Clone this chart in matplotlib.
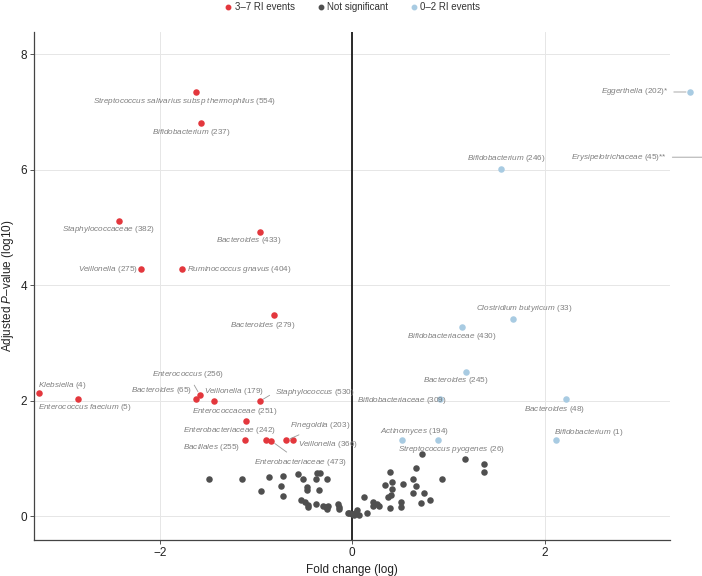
import matplotlib
matplotlib.use("Agg")
import matplotlib.pyplot as plt
from matplotlib.lines import Line2D

plt.rcParams['font.family'] = ['Liberation Sans', 'DejaVu Sans']
plt.rcParams['mathtext.fontset'] = 'custom'
plt.rcParams['mathtext.it'] = 'Liberation Sans:italic'
plt.rcParams['mathtext.rm'] = 'Liberation Sans'
plt.rcParams['mathtext.bf'] = 'Liberation Sans:bold'

# ---------------- data ----------------
red_names = ["Streptococcus salivarius subsp thermophilus", "Bifidobacterium", "Staphylococcaceae",
             "Bacteroides", "Veillonella", "Ruminococcus gnavus", "Bacteroides", "Klebsiella",
             "Enterococcus faecium", "Bacteroides", "Enterococcus", "Veillonella", "Staphylococcus",
             "Enterococcaceae", "Bacillales", "Enterobacteriaceae", "Enterobacteriaceae",
             "Finegoldia", "Veillonella"]
red_ids = ["554", "237", "382", "433", "275", "404", "279", "4", "5", "65", "256", "179", "530",
           "251", "255", "242", "473", "203", "366"]
red_fc = [-1.62, -1.57, -2.42, -0.96, -2.19, -1.77, -0.81, -3.25, -2.85, -1.62, -1.58, -1.44, -0.96,
          -1.10, -1.11, -0.90, -0.84, -0.685, -0.62]
red_p = [7.35, 6.81, 5.12, 4.93, 4.28, 4.28, 3.48, 2.13, 2.03, 2.03, 2.09, 1.99, 1.99,
         1.65, 1.31, 1.31, 1.30, 1.31, 1.31]

blue_names = ["Bacteroides", "Bifidobacteriaceae", "Bacteroides", "Actinomyces",
              "Streptococcus pyogenes", "Bifidobacterium", "Eggerthella", "Erysipelotrichaceae",
              "Bifidobacterium", "Clostridium butyricum", "Bifidobacteriaceae"]
blue_ids = ["245", "309", "48", "194", "26", "1", "202", "45", "246", "33", "430"]
blue_suffix = ["", "", "", "", "", "", "*", "**", "", "", ""]
blue_fc = [1.18, 0.91, 2.22, 0.52, 0.89, 2.12, 3.51, 3.90, 1.55, 1.67, 1.14]
blue_p = [2.50, 2.02, 2.02, 1.31, 1.31, 1.31, 7.35, 6.22, 6.02, 3.42, 3.27]

grey_fc = [-1.488, -1.142, -0.862, -0.723, -0.567, -0.509, -0.363, -0.335, -0.374, -0.266,
           -0.737, -0.474, -0.474, -0.346, -0.948, -0.717, -0.536, -0.488, -0.463, -0.463,
           -0.377, -0.307, -0.273, -0.249, -0.266, -0.152, -0.141, -0.135, -0.048, -0.006,
           0.031, 0.046, -0.031,
           0.727, 1.173, 1.368, 1.368, 0.665, 0.388, 0.928, 0.633, 0.409, 0.343,
           0.530, 0.665, 0.415, 0.630, 0.741, 0.402, 0.374, 0.118, 0.807, 0.212,
           0.509, 0.713, 0.260, 0.280, 0.215, 0.388, 0.509, 0.150, 0.018, 0.073]
grey_p = [0.636, 0.636, 0.681, 0.694, 0.733, 0.642, 0.740, 0.740, 0.642, 0.642,
          0.515, 0.498, 0.451, 0.456, 0.428, 0.347, 0.272, 0.248, 0.196, 0.151,
          0.203, 0.179, 0.151, 0.179, 0.116, 0.203, 0.156, 0.113, 0.057, 0.029,
          0.047, 0.104, 0.052,
          1.080, 0.983, 0.907, 0.763, 0.832, 0.763, 0.636, 0.636, 0.590, 0.543,
          0.549, 0.515, 0.463, 0.399, 0.399, 0.364, 0.329, 0.335, 0.283, 0.248,
          0.248, 0.220, 0.208, 0.179, 0.168, 0.139, 0.162, 0.047, 0.017, 0.017]

legend_labels = ["3\u20137 RI events", "Not significant", "0\u20132 RI events"]

# ---------------- layout (label offsets in pixels: dx, dy, ha, segment) ----------------
red_layout = [(-12, -10, 'center', False), (-10, -9, 'center', False), (-11, -9, 'center', False),
              (-11, -9, 'center', False), (-4, 0, 'right', False), (5, 0, 'left', False),
              (-11, -10, 'center', False), (23, 8, 'center', False), (7, -9, 'center', False),
              (-4, 8, 'right', False), (-12, 21, 'center', True), (20, 10, 'center', False),
              (15, 9, 'left', True), (-12, 9, 'center', False), (-34, -7, 'center', False),
              (-36, 10, 'center', False), (29, -21, 'center', True), (34, 15, 'center', True),
              (5, -4, 'left', False)]
blue_layout = [(-10, -9, 'center', False), (-38, -1, 'center', False), (-11, -10, 'center', False),
               (12, 9, 'center', False), (14, -9, 'center', False), (32, 8, 'center', False),
               (-22, 0, 'right', True), (-61, 0, 'right', True), (5, 10, 'center', False),
               (11, 10, 'center', False), (-10, -9, 'center', False)]

RED = "#E3373D"
GREY = "#4F4F4F"
BLUE = "#A8CBE2"
LABEL_COLOR = "#7F7F7F"

fig = plt.figure(figsize=(7.02, 5.76), dpi=100)
ax = fig.add_axes([34 / 702, 36 / 576, 636 / 702, 508 / 576])
ax.set_xlim(-3.305, 3.30)
ax.set_ylim(-0.416, 8.39)

ax.set_xticks([-2, 0, 2])
ax.set_xticklabels(["\u22122", "0", "2"])
ax.set_yticks([0, 2, 4, 6, 8])
ax.grid(True, color="#E6E6E6", lw=0.7)
ax.set_axisbelow(True)
for s in ["top", "right"]:
    ax.spines[s].set_visible(False)
for s in ["left", "bottom"]:
    ax.spines[s].set_color("#444444")
    ax.spines[s].set_linewidth(0.9)
ax.tick_params(length=3, width=0.7, color="#555555", labelsize=8.5, labelcolor="#222222", pad=2)

ax.axvline(0, color="#1a1a1a", lw=1.3, zorder=1)

ax.scatter(grey_fc, grey_p, s=22, color=GREY, linewidths=0, zorder=3)
ax.scatter(blue_fc, blue_p, s=22, color=BLUE, linewidths=0, zorder=3, clip_on=False)
ax.scatter(red_fc, red_p, s=22, color=RED, linewidths=0, zorder=3)


def mk_label(name, num, suffix=""):
    nm = name.replace(" ", r"\ ")
    return r"$\mathit{" + nm + "}$" + " (" + num + ")" + suffix


def place(names, ids, fcs, ps, layout, suffixes=None):
    for i, (nm, num, x, y) in enumerate(zip(names, ids, fcs, ps)):
        dx, dy, ha, seg = layout[i]
        suf = suffixes[i] if suffixes else ""
        kw = {}
        if seg:
            rp = (1, 0.5) if ha == 'right' else ((0, 0.5) if ha == 'left' else (0.5, 0.5))
            kw['arrowprops'] = dict(arrowstyle='-', color="#9A9A9A", lw=0.6,
                                    shrinkA=2, shrinkB=3, relpos=rp)
        ax.annotate(mk_label(nm, num, suf), xy=(x, y), xytext=(dx, dy),
                    textcoords='offset pixels', ha=ha, va='center',
                    fontsize=5.9, color=LABEL_COLOR, annotation_clip=False, zorder=4, **kw)


place(red_names, red_ids, red_fc, red_p, red_layout)
place(blue_names, blue_ids, blue_fc, blue_p, blue_layout, blue_suffix)

ax.set_xlabel("Fold change (log)", fontsize=8.5, color="#222222", labelpad=4)
ax.set_ylabel("Adjusted $\\mathit{P}$\u2013value (log10)", fontsize=8.5, color="#222222", labelpad=3)

handles = [Line2D([], [], marker='o', ls='', color=c, markersize=3.2) for c in (RED, GREY, BLUE)]
fig.legend(handles, legend_labels, loc='center', bbox_to_anchor=(352 / 702, 1 - 7 / 576),
           ncol=3, frameon=False, fontsize=7, handletextpad=0.2, columnspacing=2.1,
           handlelength=1.0, labelcolor="#333333")

fig.savefig("out.png", dpi=100)
